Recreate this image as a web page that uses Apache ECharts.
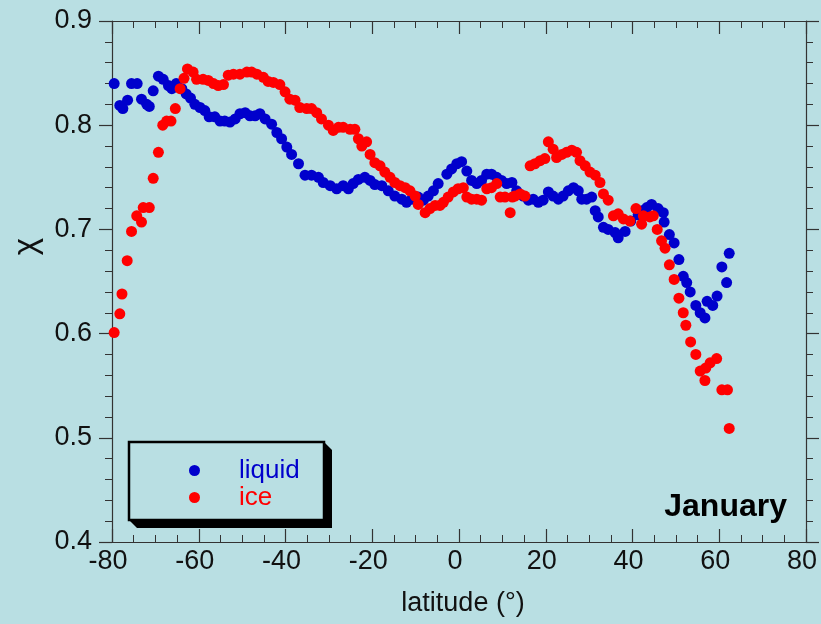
<!DOCTYPE html>
<html>
<head>
<meta charset="utf-8">
<script src="https://cdn.jsdelivr.net/npm/echarts@6/dist/echarts.min.js"></script>
<style>
html,body{margin:0;padding:0;background:#b9dfe3;}
#chart{width:821px;height:624px;}
</style>
</head>
<body>
<div id="chart"></div>
<script>
// ---- data ----
const liquidLat = [-79.5,-78.2,-77.5,-76.4,-75.5,-74.2,-73.2,-72.0,-71.4,-70.5,-69.3,-68.2,-67.0,-66.2,-65.2,-63.9,-62.9,-61.9,-60.9,-59.7,-58.6,-57.6,-56.3,-55.1,-54.0,-52.8,-51.6,-50.5,-49.3,-48.2,-47.0,-45.9,-44.7,
  -43.2,-42.0,-40.9,-39.7,-38.6,-37.0,-35.5,-34.0,-32.4,-31.3,-29.7,-28.2,-26.7,-25.5,-24.4,-23.2,-21.7,-20.5,-19.4,-17.8,-16.3,-14.8,-13.2,-12.1,-10.9,-9.4,-8.2,-7.1,-5.9,-4.8,
  -2.8,-1.7,-0.5,0.6,1.8,2.9,4.1,5.2,6.4,7.5,8.7,9.8,11.0,12.2,13.3,14.8,16.0,17.1,18.3,19.4,20.6,21.7,22.9,24.0,25.2,26.4,27.5,28.3,29.4,30.6,31.4,32.1,33.3,34.4,36.0,
  36.7,38.3,39.6,41.3,42.2,43.3,44.4,45.9,47.1,47.3,48.5,49.6,50.7,51.7,52.5,53.3,54.6,55.6,56.7,57.2,58.5,59.5,60.6,61.7,62.3];
const liquidChi = [0.840,0.819,0.816,0.824,0.840,0.840,0.825,0.820,0.818,0.833,0.847,0.844,0.838,0.835,0.840,0.835,0.830,0.826,0.820,0.817,0.814,0.808,0.808,0.804,0.804,0.803,0.806,0.811,0.812,0.809,0.809,0.811,0.806,
  0.801,0.793,0.787,0.779,0.772,0.763,0.752,0.752,0.750,0.745,0.742,0.739,0.742,0.739,0.744,0.748,0.750,0.747,0.743,0.742,0.737,0.732,0.729,0.726,0.729,0.731,0.728,0.732,0.737,0.744,
  0.753,0.758,0.763,0.765,0.756,0.747,0.744,0.747,0.753,0.753,0.750,0.747,0.744,0.745,0.737,0.732,0.728,0.729,0.726,0.728,0.736,0.732,0.729,0.732,0.737,0.740,0.737,0.729,0.729,0.731,0.718,0.712,0.702,0.700,0.697,
  0.692,0.698,0.708,0.714,0.718,0.721,0.724,0.720,0.716,0.707,0.695,0.687,0.671,0.655,0.649,0.640,0.627,0.620,0.615,0.631,0.627,0.636,0.664,0.649,0.677];

const iceLat = [-79.5,-78.2,-77.7,-76.5,-75.5,-74.3,-73.2,-72.8,-71.4,-70.5,-69.3,-68.3,-67.4,-66.4,-65.4,-64.3,-63.4,-62.6,-61.3,-60.5,-59.0,-57.8,-56.6,-55.5,-54.3,-53.2,-52.0,-50.5,-48.9,-47.8,-46.6,-45.1,-44.0,
  -42.8,-41.3,-40.1,-39.0,-37.8,-36.7,-35.1,-34.0,-32.8,-31.7,-30.1,-29.0,-27.8,-26.7,-25.1,-24.0,-23.2,-22.4,-21.3,-20.5,-19.4,-18.2,-17.1,-15.9,-14.8,-13.6,-12.4,-11.3,-10.1,-9.4,-7.8,-6.7,-5.5,-4.4,
  -3.6,-2.5,-1.3,-0.2,1.0,1.8,2.9,4.1,5.2,6.4,7.5,8.7,9.5,10.6,11.8,12.3,12.9,14.1,15.2,16.4,17.5,18.7,19.8,20.6,21.7,22.5,23.7,24.8,26.0,27.1,27.9,29.1,30.2,31.4,32.5,33.3,34.4,35.6,
  36.7,37.9,39.4,40.8,42.1,42.5,44.0,44.8,45.7,46.7,47.5,48.5,49.6,50.7,51.7,52.3,53.4,54.6,55.6,56.7,56.9,57.9,59.4,60.6,61.9,62.3];
const iceChi = [0.601,0.619,0.638,0.670,0.698,0.713,0.707,0.721,0.721,0.749,0.774,0.800,0.804,0.804,0.816,0.835,0.845,0.854,0.851,0.844,0.844,0.843,0.840,0.838,0.839,0.848,0.849,0.849,0.851,0.851,0.849,0.846,0.842,
  0.841,0.839,0.832,0.825,0.824,0.817,0.816,0.816,0.812,0.806,0.800,0.795,0.798,0.798,0.796,0.796,0.787,0.780,0.784,0.772,0.764,0.761,0.755,0.750,0.745,0.742,0.740,0.737,0.732,0.724,0.716,0.720,0.723,0.723,
  0.726,0.731,0.736,0.739,0.740,0.731,0.729,0.729,0.728,0.739,0.740,0.744,0.731,0.731,0.716,0.731,0.732,0.734,0.732,0.761,0.763,0.766,0.768,0.784,0.777,0.769,0.772,0.774,0.776,0.774,0.766,0.761,0.755,0.752,0.745,0.734,0.728,0.713,
  0.715,0.710,0.708,0.720,0.705,0.713,0.712,0.713,0.700,0.689,0.682,0.666,0.652,0.634,0.620,0.608,0.592,0.580,0.564,0.555,0.567,0.572,0.576,0.546,0.546,0.509];

const xTicks = {min:-80, max:80, step:20};
const yTicks = {min:0.4, max:0.9, step:0.1};
const seriesNames = ['liquid','ice'];
const seriesColors = ['#0000cc','#ff0000'];
const panelTitle = 'January';
const xTitle = 'latitude (°)';
const yTitle = 'χ';

// ---- chart ----
const FONT = '"Liberation Sans", Arial, Helvetica, sans-serif';
const BG = '#b9dfe3';
const AX = '#333333';
const chart = echarts.init(document.getElementById('chart'), null, {renderer:'canvas'});

function xAxisCfg(pos, showLabel){
  return {
    type:'value', position:pos, min:xTicks.min, max:xTicks.max, interval:xTicks.step,
    axisLine:{onZero:false, lineStyle:{color:AX, width:1.2}},
    axisTick:{show:true, inside:true, length:13, lineStyle:{color:AX, width:1.2}},
    minorTick:{show:true, splitNumber:4, length:7, lineStyle:{color:AX, width:1}},
    splitLine:{show:false},
    axisLabel:{show:showLabel, fontSize:27, fontFamily:FONT, color:'#111', margin:6, padding:[0,8,0,0]},
    name: showLabel ? xTitle : '', nameLocation:'middle', nameGap:48,
    nameTextStyle:{fontSize:27, fontFamily:FONT, color:'#111', padding:[0,0,0,8]}
  };
}
function yAxisCfg(pos, showLabel){
  return {
    type:'value', position:pos, min:yTicks.min, max:yTicks.max, interval:yTicks.step,
    axisLine:{onZero:false, lineStyle:{color:AX, width:1.2}},
    axisTick:{show:true, inside:false, length:13, lineStyle:{color:AX, width:1.2}},
    minorTick:{show:true, splitNumber:5, length:7, lineStyle:{color:AX, width:1}},
    splitLine:{show:false},
    axisLabel:{show:showLabel, fontSize:27, fontFamily:FONT, color:'#111', margin:20,
      formatter:v=>v.toFixed(1)},
    name: showLabel ? yTitle : '', nameLocation:'middle', nameGap:60, nameRotate:90,
    nameTextStyle:{fontSize:33, fontFamily:FONT, color:'#111', padding:[0,0,0,70]}
  };
}

const legendX = 129, legendY = 442, legendW = 195, legendH = 78, sh = 8;

chart.setOption({
  backgroundColor: BG,
  animation:false,
  grid:{left:112, right:15, top:21, bottom:82},
  xAxis:[xAxisCfg('bottom', true), xAxisCfg('top', false)],
  yAxis:[yAxisCfg('left', true), yAxisCfg('right', false)],
  legend:{
    orient:'vertical', left:184, top:452, itemGap:0,
    itemWidth:11, itemHeight:11, icon:'circle',
    data: seriesNames.map((n,i)=>({name:n, textStyle:{color:seriesColors[i]}})),
    textStyle:{fontSize:26, fontFamily:FONT, lineHeight:27, padding:[0,0,0,34]},
    z:10
  },
  graphic:[
    {type:'polygon', z:5, silent:true,
     shape:{points:[[legendX+legendW,legendY],[legendX+legendW+sh,legendY+sh],[legendX+legendW+sh,legendY+legendH+sh],
                    [legendX+sh,legendY+legendH+sh],[legendX,legendY+legendH]]},
     style:{fill:'#000'}},
    {type:'rect', z:6, silent:true,
     shape:{x:legendX, y:legendY, width:legendW, height:legendH},
     style:{fill:BG, stroke:'#000', lineWidth:2.5}},
    {type:'text', z:6, silent:true, right:34, top:491,
     style:{text:panelTitle, font:'bold 32px '+FONT, fill:'#000'}}
  ],
  series: [
    {name:seriesNames[0], type:'scatter', symbol:'circle', symbolSize:11,
     itemStyle:{color:seriesColors[0], opacity:1},
     data: liquidLat.map((x,i)=>[x, liquidChi[i]])},
    {name:seriesNames[1], type:'scatter', symbol:'circle', symbolSize:11,
     itemStyle:{color:seriesColors[1], opacity:1},
     data: iceLat.map((x,i)=>[x, iceChi[i]])}
  ]
});
</script>
</body>
</html>
